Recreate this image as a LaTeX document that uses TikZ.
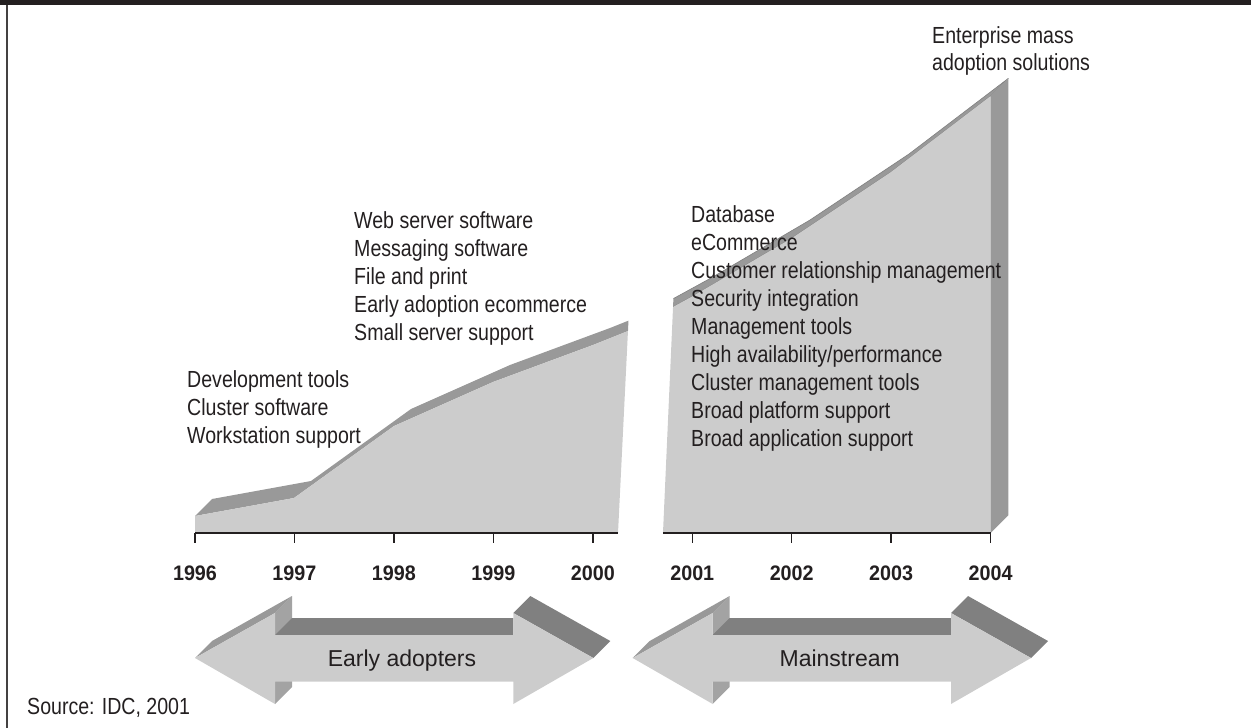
\documentclass[tikz,border=0pt]{standalone}
\usepackage{fontspec}
\setmainfont[FakeStretch=0.84]{Liberation Sans}
\newfontfamily\yrfam[FakeStretch=0.94]{Liberation Sans}
\newfontfamily\plainfam{Liberation Sans}
\newcommand\labfont{\fontsize{23.3}{27.8}\selectfont}
\newcommand\yrfont{\yrfam\bfseries\fontsize{21}{25}\selectfont}
\newcommand\arrfont{\plainfam\fontsize{23}{27.8}\selectfont}
\definecolor{cFront}{HTML}{CCCCCC}
\definecolor{cBand}{HTML}{999999}
\definecolor{cDark}{HTML}{808080}
\definecolor{cBack}{HTML}{A3A3A3}
\definecolor{cInk}{HTML}{231F20}
\tikzset{
  lab/.style={anchor=base west, inner sep=0pt, font=\labfont, text=cInk},
  yearlab/.style={anchor=base, inner sep=0pt, font=\yrfont, text=cInk},
  axisline/.style={draw=cInk, line width=1.4pt},
  arrowtext/.style={anchor=base, inner sep=0pt, font=\arrfont, text=cInk},
}
\begin{document}
\begin{tikzpicture}[x=1pt,y=-1pt]
\useasboundingbox (0,0) rectangle (1251,728);
% frame
\fill[cInk] (0,0) rectangle (1251,5);
\draw[draw=cInk!85, line width=1.4pt] (7,5) -- (7,728);

% left chart
\begin{scope}
\clip (150,0) -- (644.3,0) -- (614.7,600) -- (150,600) -- cycle;
\fill[cBand] (195,516) -- (212,499) -- (311,481) -- (411,409) -- (510,365) -- (610,328) -- (680,300) -- (660,318.2) -- (593,345) -- (493,382) -- (394,426) -- (294,498) -- cycle;
\fill[cFront] (195,533) -- (195,516) -- (294,498) -- (394,426) -- (493,382) -- (593,345) -- (660,318.2) -- (660,533) -- cycle;
\end{scope}
% right chart
\begin{scope}
\clip (686.7,0) -- (1250,0) -- (1250,600) -- (660,600) -- cycle;
\fill[cBand, draw=cDark, line width=0.6pt] (640,325) -- (693,296) -- (792,238) -- (891,172) -- (990.7,96) -- (1008.4,78.3) -- (909,154) -- (810,220) -- (711,278) -- (658,307) -- cycle;
\fill[cFront] (640,533) -- (640,325) -- (693,296) -- (792,238) -- (891,172) -- (990.7,96) -- (990.7,533) -- cycle;
\fill[cBand] (990.7,533) -- (990.7,96) -- (1008.4,78.3) -- (1008.4,515.3) -- cycle;
\end{scope}

% axes
\draw[axisline] (195,533) -- (618,533);
\draw[axisline] (663,533) -- (990.7,533);
\foreach \yr [count=\i from 0] in {1996,1997,1998,1999,2000,2001,2002,2003,2004}{
  \draw[axisline] ({195+99.45*\i},533) -- ({195+99.45*\i},543);
  \node[yearlab] (y\yr) at ({195+99.45*\i},580) {\yr};
}

% labels
\foreach \t [count=\i from 0] in {Development tools, Cluster software, Workstation support}
  \node[lab] (l\i) at (187,{387+28*\i}) {\t};
\foreach \t [count=\i from 0] in {Web server software, Messaging software, File and print, Early adoption ecommerce, Small server support}
  \node[lab] (m\i) at (354,{228+28*\i}) {\t};
\foreach \t [count=\i from 0] in {Database, eCommerce, Customer relationship management, Security integration, Management tools, High availability/performance, Cluster management tools, Broad platform support, Broad application support}
  \node[lab] (r\i) at (691,{222+28*\i}) {\t};
\node[lab] (ent1) at (932,43) {Enterprise mass};
\node[lab] (ent2) at (932,70) {adoption solutions};
\node[lab] (src) at (27,714) {Source: IDC, 2001};

% double arrows
\foreach \dx/\name/\txt in {0/early/Early adopters, 437.7/main/Mainstream}{
  \begin{scope}[xshift=\dx pt]
    \fill[cDark] (513.3,613) -- (530.3,596) -- (610.3,641) -- (593.3,658) -- cycle;
    \fill[cBack] (275,613) -- (292,596) -- (292,687) -- (275,704) -- cycle;
    \fill[cDark] (275,635) -- (292,618) -- (513.3,618) -- (513.3,635) -- cycle;
    \fill[cBand] (195,658) -- (212,641) -- (292,596) -- (275,613) -- cycle;
    \fill[cFront] (195,658) -- (275,613) -- (275,635) -- (513.3,635) -- (513.3,613) -- (593.3,658) -- (513.3,704) -- (513.3,681.7) -- (275,681.7) -- (275,704) -- cycle;
    \node[arrowtext] (\name) at (402,666) {\txt};
  \end{scope}
}
\end{tikzpicture}
\end{document}
